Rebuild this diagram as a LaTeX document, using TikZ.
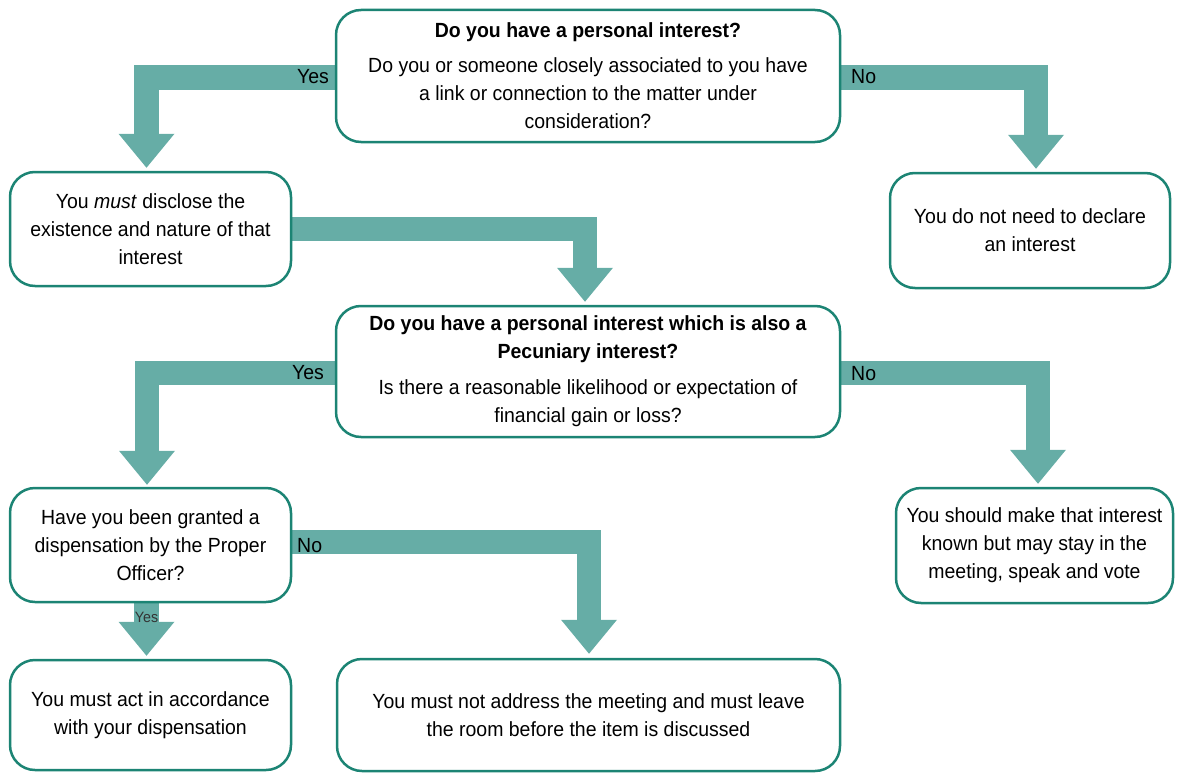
\documentclass[tikz,border=0pt]{standalone}
\usepackage{fontspec}
\setmainfont{Liberation Sans}[FakeStretch=0.95]
\usetikzlibrary{arrows.meta}
\definecolor{edgec}{RGB}{28,132,116}
\definecolor{flowc}{RGB}{102,173,166}
\pgfdeclarelayer{bg}
\pgfsetlayers{bg,main}
\begin{document}
\begin{tikzpicture}[x=1pt,y=-1pt,
  box/.style={draw=edgec, line width=2.5pt, rounded corners=25pt, fill=white,
    align=center, inner sep=0pt, font=\fontsize{20.5}{28}\selectfont},
  flow/.style={draw=flowc, line width=24.5pt,
    -{Triangle[width=56pt,length=34pt,line width=0pt]}},
  lbl/.style={font=\fontsize{20.5}{24}\selectfont, inner sep=0pt},
  slbl/.style={font=\fontsize{15}{18}\selectfont, inner sep=0pt, text=black!80}]
\useasboundingbox (0,0) rectangle (1177,773);

\node[box, minimum width=504pt, minimum height=132pt] (b1) at (588,76)
  {\textbf{Do you have a personal interest?}\\[7pt]
   Do you or someone closely associated to you have\\
   a link or connection to the matter under\\
   consideration?};
\node[box, minimum width=281pt, minimum height=114pt] (b2) at (150.5,229)
  {You \textit{must} disclose the\\existence and nature of that\\interest};
\node[box, minimum width=280pt, minimum height=115pt] (b3) at (1030,230.5)
  {You do not need to declare\\an interest};
\node[box, minimum width=504pt, minimum height=131pt] (b4) at (588,371.5)
  {\textbf{Do you have a personal interest which is also a}\\
   \textbf{Pecuniary interest?}\\[8pt]
   Is there a reasonable likelihood or expectation of\\
   financial gain or loss?};
\node[box, minimum width=277pt, minimum height=115pt] (b5) at (1034.5,545.5)
  {You should make that interest\\known but may stay in the\\meeting, speak and vote};
\node[box, minimum width=281pt, minimum height=114pt] (b6) at (150.5,545)
  {Have you been granted a\\dispensation by the Proper\\Officer?};
\node[box, minimum width=281pt, minimum height=110pt] (b7) at (150.5,715)
  {You must act in accordance\\with your dispensation};
\node[box, minimum width=503pt, minimum height=112pt] (b8) at (588.5,715)
  {You must not address the meeting and must leave\\the room before the item is discussed};

\begin{pgfonlayer}{bg}
  \draw[flow] ([yshift=-1.5pt]b1.west) -| ([xshift=-4pt,yshift=3pt]b2.north);
  \draw[flow] ([yshift=-1.5pt]b1.east) -| ([xshift=6pt,yshift=3pt]b3.north);
  \draw[flow] (b2.east) -| ([xshift=-3pt,yshift=3pt]b4.north);
  \draw[flow] ([yshift=-1.5pt]b4.west) -| ([xshift=-3.5pt,yshift=2pt]b6.north);
  \draw[flow] ([yshift=-1.5pt]b4.east) -| ([xshift=3.5pt,yshift=3pt]b5.north);
  \draw[flow] ([yshift=3pt]b6.east) -| ([xshift=0.5pt,yshift=4pt]b8.north);
  \draw[flow] ([xshift=-4pt]b6.south) -- ([xshift=-4pt,yshift=3pt]b7.north);
\end{pgfonlayer}

\node[lbl, anchor=base east] (l1) at (329,84) {Yes};
\node[lbl, anchor=base west] (l2) at (851,84) {No};
\node[lbl, anchor=base east] (l3) at (324,379) {Yes};
\node[lbl, anchor=base west] (l4) at (851,380) {No};
\node[lbl, anchor=base west] (l5) at (297,552) {No};
\node[slbl, anchor=base] (l6) at (146.5,622) {Yes};
\end{tikzpicture}
\end{document}
